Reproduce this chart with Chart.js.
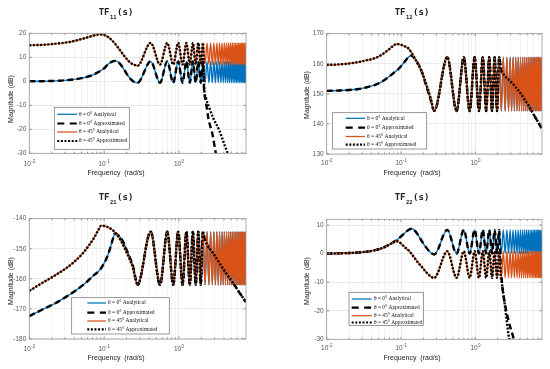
<!DOCTYPE html>
<html><head><meta charset="utf-8">
<script src="https://cdn.jsdelivr.net/npm/chart.js@4.4.1/dist/chart.umd.min.js"></script>
<style>
html,body{margin:0;padding:0;background:#fff}
body{width:550px;height:369px;position:relative;overflow:hidden}
canvas{position:absolute}
</style></head><body>
<canvas id="c1" width="275" height="185" style="left:0;top:0"></canvas>
<canvas id="c2" width="275" height="185" style="left:275px;top:0"></canvas>
<canvas id="c3" width="275" height="184" style="left:0;top:185px"></canvas>
<canvas id="c4" width="275" height="184" style="left:275px;top:185px"></canvas>
<script>
// ---------- axes / labels ----------
const xMin = 0.01, xMax = 7.9;
const xDecades = [0.01, 0.1, 1];
const xDecadeExp = ['-2', '-1', '0'];
const xMinor = [0.02,0.03,0.04,0.05,0.06,0.07,0.08,0.09,0.2,0.3,0.4,0.5,0.6,0.7,0.8,0.9,2,3,4,5,6,7];
const p1YTicks = [-30,-20,-10,0,10,20];
const p2YTicks = [130,140,150,160,170];
const p3YTicks = [-180,-170,-160,-150,-140];
const p4YTicks = [-30,-20,-10,0,10];
const titleSubs = ['11','12','21','22'];
const legendLabels = ['\u03b8 = 0\u00b0 Analytical','\u03b8 = 0\u00b0 Approximated','\u03b8 = 45\u00b0 Analytical','\u03b8 = 45\u00b0 Approximated'];

// ---------- frequencies of the oscillation extrema (rad/s) ----------
const tailF = [0.28,0.42,0.56,0.70,0.84,0.98,1.12,1.26,1.40,1.54,
1.68,1.82,1.96,2.10,2.24,2.38,2.52,2.66,2.80,2.94,
3.08,3.22,3.36,3.50,3.64,3.78,3.92,4.06,4.20,4.34,
4.48,4.62,4.76,4.90,5.04,5.18,5.32,5.46,5.60,5.74,
5.88,6.02,6.16,6.30,6.44,6.58,6.72,6.86,7.00,7.14,
7.28,7.42,7.56,7.70,7.84];

// ---------- TF11 ----------
const p1BlueF = [0.01,0.015,0.02,0.03,0.04,0.05,0.06,0.07,0.08,0.09,0.1,0.115,0.128,0.14,0.155,0.17,0.19,0.21,0.23,0.255];
const p1BlueV = [0,0.05,0.15,0.4,0.8,1.3,1.9,2.6,3.5,4.4,5.4,7.3,8.2,8.5,8.0,6.6,4.3,2.2,0.7,-0.3];
const p1BlueTail = [-0.6,8.3,-0.6,8.3,-0.6,8.3,-0.6,8.3,-0.6,8.3,
-0.6,8.3,-0.6,8.3,-0.6,8.3,-0.6,8.3,-0.6,8.3,
-0.6,8.3,-0.6,8.3,-0.6,8.3,-0.6,8.3,-0.6,8.3,
-0.6,8.3,-0.6,8.3,-0.6,8.3,-0.6,8.3,-0.6,8.3,
-0.6,8.3,-0.6,8.3,-0.6,8.3,-0.6,8.3,-0.6,8.3,
-0.6,8.3,-0.6,8.3,-0.6];
const p1OrangeF = [0.01,0.015,0.02,0.03,0.04,0.05,0.06,0.07,0.08,0.088,0.1,0.115,0.13,0.15,0.17,0.19,0.21,0.23,0.255];
const p1OrangeV = [15,15.2,15.5,16.1,16.8,17.6,18.3,18.9,19.4,19.6,19.3,18.3,16.8,14.5,12.2,10.2,8.6,7.5,6.8];
const p1OrangeTail = [6.5,16,7,16,7,16,7,16,7,16,
7,16,7,16,7,16,7,16,7,16,
7,16,7,16,7,16,7,16,7,16,
7,16,7,16,7,16,7,16,7,16,
7,16,7,16,7,16,7,16,7,16,
7,16,7,16,7];
const p1DashF = [2.17,2.3,2.5,2.8,3.1,3.4];
const p1DashV = [-3,-8.6,-16,-21.8,-29.5,-36];
const p1DotF = [2.17,2.3,2.5,2.9,3.5,4.0,4.5,4.9];
const p1DotV = [-2,-7,-10.3,-15.5,-20.7,-25.8,-30,-33];

// ---------- TF12 ----------
const p2BlueF = [0.01,0.015,0.02,0.027,0.035,0.045,0.055,0.068,0.08,0.09,0.1,0.113,0.127,0.138,0.15,0.17,0.19,0.22,0.25];
const p2BlueV = [151,151.1,151.3,151.6,152.2,153,154,155.6,157,158,159.2,160.8,162.3,162.7,162,160,157.4,152.5,148];
const p2OrangeF = [0.01,0.015,0.02,0.027,0.035,0.045,0.055,0.068,0.078,0.088,0.1,0.113,0.127,0.14,0.155,0.17,0.19,0.22,0.25];
const p2OrangeV = [159.6,159.8,160.1,160.6,161.2,161.9,163,164.7,165.9,166.6,166.3,165.8,165,163.5,161.6,159.8,157.4,153,148.7];
const p2Tail = [144.4,162.2,144.3,162.2,144.3,162.2,144.3,162.2,144.3,162.2,
144.3,162.2,144.3,162.2,144.3,162.2,144.3,162.2,144.3,162.2,
144.3,162.2,144.3,162.2,144.3,162.2,144.3,162.2,144.3,162.2,
144.3,162.2,144.3,162.2,144.3,162.2,144.3,162.2,144.3,162.2,
144.3,162.2,144.3,162.2,144.3,162.2,144.3,162.2,144.3,162.2,
144.3,162.2,144.3,162.2,144.3];
const p2DecayF = [2.2,2.4,2.85,3.4,3.9,4.6,5.3,6.2,7.2,7.9];
const p2DecayV = [158.5,156.5,154.6,152.6,150.8,148.2,145.8,142.8,140.1,138.3];

// ---------- TF21 ----------
const p3BlueF = [0.01,0.015,0.02,0.025,0.031,0.04,0.052,0.063,0.073,0.088,0.105,0.115,0.124,0.132,0.139,0.15,0.165,0.18,0.2,0.22,0.244,0.262];
const p3BlueV = [-172.4,-170.2,-168.7,-167.4,-166,-164.2,-162.1,-160.3,-158.8,-157,-153.8,-151.4,-148.8,-146.5,-145,-145.3,-146.2,-147.7,-150.4,-152.8,-155.8,-159.5];
const p3OrangeF = [0.01,0.015,0.02,0.025,0.031,0.04,0.052,0.063,0.073,0.082,0.092,0.105,0.12,0.132,0.15,0.165,0.18,0.2,0.22,0.244,0.262];
const p3OrangeV = [-164,-161.3,-159.5,-158,-156.5,-154.3,-151.5,-148.8,-146.5,-144.2,-142.3,-142.5,-143.2,-143.9,-145.5,-147,-148.8,-151.2,-153.5,-156.5,-159.8];
const p3Tail = [-162,-144.3,-162,-144.3,-162,-144.3,-162,-144.3,-162,-144.3,
-162,-144.3,-162,-144.3,-162,-144.3,-162,-144.3,-162,-144.3,
-162,-144.3,-162,-144.3,-162,-144.3,-162,-144.3,-162,-144.3,
-162,-144.3,-162,-144.3,-162,-144.3,-162,-144.3,-162,-144.3,
-162,-144.3,-162,-144.3,-162,-144.3,-162,-144.3,-162,-144.3,
-162,-144.3,-162,-144.3,-162];
const p3DecayF = [2.2,2.4,2.84,3.5,4.3,5.25,6.3,7.2,7.9];
const p3DecayV = [-146.5,-148.8,-151.3,-154.8,-158.2,-161.2,-164.2,-166.3,-167.8];

// ---------- TF22 ----------
const p4BlueF = [0.01,0.02,0.03,0.045,0.057,0.068,0.077,0.084,0.093,0.105,0.12,0.138,0.15,0.165,0.19,0.22,0.25];
const p4BlueV = [0,0.2,0.5,1.2,2.0,3.0,3.8,4.4,5.3,6.5,7.9,8.7,8.3,7.0,4.4,2.0,0.4];
const p4BlueTail = [-0.3,8.3,0,8.3,0,8.3,0,8.3,0,8.3,
0,8.3,0,8.3,0,8.3,0,8.3,0,8.3,
0,8.3,0,8.3,0,8.3,0,8.3,0,8.3,
0,8.3,0,8.3,0,8.3,0,8.3,0,8.3,
0,8.3,0,8.3,0,8.3,0,8.3,0,8.3,
0,8.3,0,8.3,0];
const p4OrangeF = [0.01,0.02,0.03,0.045,0.057,0.068,0.077,0.084,0.092,0.1,0.115,0.13,0.15,0.17,0.19,0.22,0.25];
const p4OrangeV = [0,0.2,0.5,1.2,2.0,3.0,3.8,4.4,4.2,3.5,2.0,0.8,-1.3,-3.2,-4.6,-6.6,-8.0];
const p4OrangeTail = [-8.5,0.8,-8.5,0.8,-8.5,0.8,-8.5,0.8,-8.5,0.8,
-8.5,0.8,-8.5,0.8,-8.5,0.8,-8.5,0.8,-8.5,0.8,
-8.5,0.8,-8.5,0.8,-8.5,0.8,-8.5,0.8,-8.5,0.8,
-8.5,0.8,-8.5,0.8,-8.5,0.8,-8.5,0.8,-8.5,0.8,
-8.5,0.8,-8.5,0.8,-8.5,0.8,-8.5,0.8,-8.5,0.8,
-8.5,0.8,-8.5,0.8,-8.5];
const p4DashF = [2.17,2.3,2.5,2.8,3.3,3.5];
const p4DashV = [-1,-11,-17.5,-23.5,-30,-33];
const p4DotF = [2.2,2.26,2.45,2.65,2.85,3.0];
const p4DotV = [-8,-9.8,-16.5,-23.5,-30,-34];

// ---------- helpers ----------
const FONT = "'Liberation Sans', Arial, Helvetica, sans-serif";
Chart.defaults.font.family = FONT;
const BLUE = '#0072BD', ORANGE = '#D95319';
const NFOLLOW = 14; // approximations follow analytical up to 2.10 rad/s
function pts(f, v) { return f.map((x, i) => ({x: x, y: v[i]})); }
function analytic(hf, hv, tv) { return pts(hf.concat(tailF), hv.concat(tv)); }
function approx(hf, hv, tv, df, dv) { return pts(hf.concat(tailF.slice(0, NFOLLOW), df), hv.concat(tv.slice(0, NFOLLOW), dv)); }

const styles = [
  {color: BLUE, width: 1.4, dash: [], order: 4},
  {color: '#000', width: 2.4, dash: [6, 3.5], order: 3},
  {color: ORANGE, width: 1.4, dash: [], order: 2},
  {color: '#000', width: 2.4, dash: [2, 1.6], order: 1}
];

const panels = [
  {id: 'c1', H: 185, left: 29.3, right: 246, top: 33.3, bottom: 153.3, yMin: -30, yMax: 20, yTicks: p1YTicks,
   titleX: 116, ytX: 11, ytY: 99, xtX: 116, xtY: 173, xtlY: 164,
   leg: {x0: 54.3, y0: 107.3, x1: 129.3, y1: 149.3, lx0: 57.3, lx1: 77.3, tx: 79, rows: [114.3, 123.5, 132, 141], fs: 5.4},
   series: [analytic(p1BlueF, p1BlueV, p1BlueTail), approx(p1BlueF, p1BlueV, p1BlueTail, p1DashF, p1DashV),
            analytic(p1OrangeF, p1OrangeV, p1OrangeTail), approx(p1OrangeF, p1OrangeV, p1OrangeTail, p1DotF, p1DotV)]},
  {id: 'c2', H: 185, left: 51.7, right: 267, top: 33.7, bottom: 154, yMin: 130, yMax: 170, yTicks: p2YTicks,
   titleX: 137, ytX: 32, ytY: 95, xtX: 137, xtY: 173, xtlY: 163.5,
   leg: {x0: 57.3, y0: 112.7, x1: 151.7, y1: 149, lx0: 70.7, lx1: 90, tx: 92, rows: [118.3, 127.7, 136.5, 144.7], fs: 5.5},
   series: [analytic(p2BlueF, p2BlueV, p2Tail), approx(p2BlueF, p2BlueV, p2Tail, p2DecayF, p2DecayV),
            analytic(p2OrangeF, p2OrangeV, p2Tail), approx(p2OrangeF, p2OrangeV, p2Tail, p2DecayF, p2DecayV)]},
  {id: 'c3', H: 184, left: 29.3, right: 246, top: 33.7, bottom: 154, yMin: -180, yMax: -140, yTicks: p3YTicks,
   titleX: 116, ytX: 11, ytY: 96, xtX: 116, xtY: 173, xtlY: 164.5,
   leg: {x0: 71.7, y0: 112.7, x1: 169.3, y1: 149, lx0: 87.3, lx1: 106, tx: 108, rows: [118, 127.7, 136, 144.3], fs: 5.5},
   series: [analytic(p3BlueF, p3BlueV, p3Tail), approx(p3BlueF, p3BlueV, p3Tail, p3DecayF, p3DecayV),
            analytic(p3OrangeF, p3OrangeV, p3Tail), approx(p3OrangeF, p3OrangeV, p3Tail, p3DecayF, p3DecayV)]},
  {id: 'c4', H: 184, left: 51.7, right: 267, top: 34.3, bottom: 154.3, yMin: -30, yMax: 12, yTicks: p4YTicks,
   titleX: 137, ytX: 32, ytY: 96, xtX: 137, xtY: 173, xtlY: 163.5,
   leg: {x0: 74, y0: 107.3, x1: 148.3, y1: 140.3, lx0: 76.7, lx1: 96.7, tx: 99, rows: [114, 122.7, 130.7, 137.5], fs: 5.4},
   series: [analytic(p4BlueF, p4BlueV, p4BlueTail), approx(p4BlueF, p4BlueV, p4BlueTail, p4DashF, p4DashV),
            analytic(p4OrangeF, p4OrangeV, p4OrangeTail), approx(p4OrangeF, p4OrangeV, p4OrangeTail, p4DotF, p4DotV)]}
];

function decoPlugin(p, k) {
  return {
    id: 'deco' + k,
    afterDraw(chart) {
      const ctx = chart.ctx, a = chart.chartArea, xs = chart.scales.x, ys = chart.scales.y;
      ctx.save();
      // inward tick marks
      ctx.strokeStyle = '#666'; ctx.lineWidth = 0.7; ctx.setLineDash([]);
      ctx.beginPath();
      xDecades.concat(xMinor).forEach(v => {
        const x = xs.getPixelForValue(v); const L = xDecades.includes(v) ? 2.5 : 1.5;
        ctx.moveTo(x, a.bottom); ctx.lineTo(x, a.bottom - L);
        ctx.moveTo(x, a.top); ctx.lineTo(x, a.top + L);
      });
      p.yTicks.forEach(v => {
        const y = ys.getPixelForValue(v);
        ctx.moveTo(a.left, y); ctx.lineTo(a.left + 2.5, y);
        ctx.moveTo(a.right, y); ctx.lineTo(a.right - 2.5, y);
      });
      ctx.stroke();
      // axes box
      ctx.strokeStyle = '#9a9a9a'; ctx.lineWidth = 0.8;
      ctx.strokeRect(a.left, a.top, a.right - a.left, a.bottom - a.top);
      // x tick labels 10^n
      ctx.fillStyle = '#555'; ctx.textBaseline = 'middle'; ctx.textAlign = 'left';
      xDecades.forEach((v, i) => {
        const x = xs.getPixelForValue(v);
        ctx.font = '6.5px ' + FONT; const w1 = ctx.measureText('10').width;
        ctx.font = '4.5px ' + FONT; const w2 = ctx.measureText(xDecadeExp[i]).width;
        const x0 = x - (w1 + w2) / 2;
        ctx.font = '6.5px ' + FONT; ctx.fillText('10', x0, p.xtlY);
        ctx.font = '4.5px ' + FONT; ctx.fillText(xDecadeExp[i], x0 + w1 + 0.3, p.xtlY - 2.6);
      });
      // axis titles
      ctx.fillStyle = '#222'; ctx.textAlign = 'center';
      ctx.font = '7px ' + FONT;
      ctx.fillText('Frequency  (rad/s)', p.xtX, p.xtY);
      ctx.save(); ctx.translate(p.ytX, p.ytY); ctx.rotate(-Math.PI / 2);
      ctx.fillText('Magnitude (dB)', 0, 0); ctx.restore();
      // title TF_xx(s)
      const tf = "bold 9px 'DejaVu Sans Mono', monospace", sf = "bold 5.5px 'DejaVu Sans Mono', monospace";
      ctx.textAlign = 'left';
      ctx.font = tf; const t1 = ctx.measureText('TF').width, t3 = ctx.measureText('(s)').width;
      ctx.font = sf; const t2 = ctx.measureText(titleSubs[k]).width;
      const tx0 = p.titleX - (t1 + t2 + t3 + 1) / 2;
      ctx.font = tf; ctx.fillText('TF', tx0, 13);
      ctx.font = sf; ctx.fillText(titleSubs[k], tx0 + t1 + 0.5, 17.3);
      ctx.font = tf; ctx.fillText('(s)', tx0 + t1 + t2 + 1, 13);
      // legend
      const L = p.leg;
      ctx.fillStyle = '#fff'; ctx.fillRect(L.x0, L.y0, L.x1 - L.x0, L.y1 - L.y0);
      ctx.strokeStyle = '#6e6e6e'; ctx.lineWidth = 0.7; ctx.strokeRect(L.x0, L.y0, L.x1 - L.x0, L.y1 - L.y0);
      styles.forEach((s, i) => {
        const y = L.rows[i];
        ctx.strokeStyle = s.color; ctx.lineWidth = s.width * 0.9;
        ctx.setLineDash(i === 1 ? [7, 5.5] : s.dash);
        ctx.beginPath(); ctx.moveTo(L.lx0, y); ctx.lineTo(L.lx1, y); ctx.stroke();
        ctx.setLineDash([]);
        ctx.fillStyle = '#111'; ctx.font = "normal 400 " + L.fs + "px 'Liberation Serif', serif";
        ctx.textBaseline = 'middle'; ctx.fillText(legendLabels[i], L.tx, y);
      });
      ctx.restore();
    }
  };
}

panels.forEach((p, k) => {
  const canvas = document.getElementById(p.id);
  new Chart(canvas, {
    type: 'line',
    data: {
      datasets: p.series.map((d, i) => ({
        label: legendLabels[i], data: d,
        borderColor: styles[i].color, borderWidth: styles[i].width, borderDash: styles[i].dash,
        order: styles[i].order, pointRadius: 0, fill: false,
        cubicInterpolationMode: 'monotone', borderCapStyle: 'butt', borderJoinStyle: 'round'
      }))
    },
    options: {
      responsive: false, animation: false, events: [],
      layout: {padding: {left: 0, top: p.top, right: 275 - p.right, bottom: 0}},
      plugins: {legend: {display: false}, tooltip: {enabled: false}, title: {display: false}},
      scales: {
        x: {
          type: 'logarithmic', min: xMin, max: xMax,
          afterBuildTicks: s => { s.ticks = xDecades.concat(xMinor).sort((a, b) => a - b).map(v => ({value: v})); },
          afterFit: s => { s.height = p.H - p.bottom; },
          ticks: {display: false},
          grid: {drawTicks: false, lineWidth: 0.7, color: c => (c.tick && xDecades.includes(c.tick.value)) ? '#e2e2e2' : '#efefef'},
          border: {display: false}
        },
        y: {
          type: 'linear', min: p.yMin, max: p.yMax,
          afterBuildTicks: s => { s.ticks = p.yTicks.map(v => ({value: v})); },
          afterFit: s => { s.width = p.left; },
          ticks: {padding: 3, color: '#555', font: {size: 6.5}},
          grid: {drawTicks: false, lineWidth: 0.7, color: '#e2e2e2'},
          border: {display: false}
        }
      }
    },
    plugins: [decoPlugin(p, k)]
  });
});
</script>
</body></html>
